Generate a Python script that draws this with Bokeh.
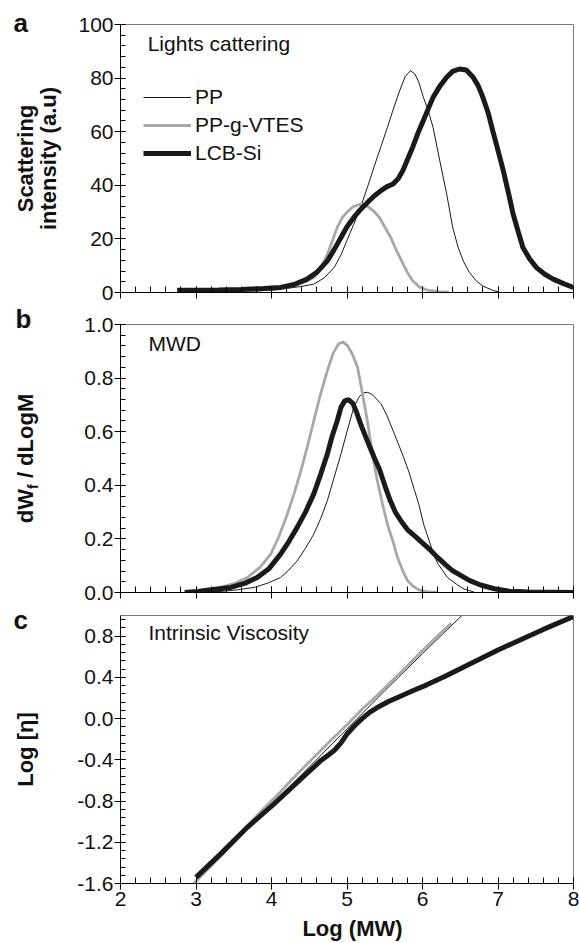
import numpy as np
from bokeh.plotting import figure
from bokeh.models import Range1d, FixedTicker, Legend, LegendItem
from bokeh.layouts import column, row
from bokeh.core.properties import value
from bokeh.embed import file_html
from bokeh.resources import INLINE

FONT = "Liberation Sans"
TXT = "#111111"

# ---------------- data ----------------
series_names = ["PP", "PP-g-VTES", "LCB-Si"]

x_ticks = [2, 3, 4, 5, 6, 7, 8]
x_tick_labels = ["2", "3", "4", "5", "6", "7", "8"]

# (a) Light scattering
a_pp_x = [2.9, 3.3, 3.7, 4.0, 4.2, 4.4, 4.56, 4.7, 4.83, 4.92, 5.0, 5.09, 5.18, 5.27, 5.36, 5.45, 5.54, 5.62,
          5.7, 5.77, 5.84, 5.9, 5.95, 6.01, 6.08, 6.14, 6.23, 6.32, 6.40, 6.47, 6.54, 6.62, 6.71, 6.8, 6.93, 7.0]
a_pp_y = [0.2, 0.3, 0.5, 0.9, 1.5, 2.3, 3.1, 5.5, 9.3, 14, 19.5, 25.5, 31.8, 39.2, 47, 54.5, 62, 69,
          75.5, 80.5, 82.8, 81.5, 78.5, 73, 67.5, 61.6, 49, 36.8, 24.3, 17, 11.8, 7.5, 4.4, 2.4, 0.8, 0.3]
a_vt_x = [3.0, 3.4, 3.8, 4.1, 4.3, 4.45, 4.56, 4.65, 4.74, 4.81, 4.87, 4.94, 5.0, 5.08, 5.18, 5.27, 5.35,
          5.43, 5.5, 5.58, 5.65, 5.72, 5.8, 5.87, 5.95, 6.05, 6.2, 6.35]
a_vt_y = [0.2, 0.4, 0.8, 1.5, 2.6, 4.0, 5.6, 9, 14.3, 19.5, 24.3, 28, 30, 32, 33, 32.2, 30.5,
          28, 24.5, 20.5, 16, 12, 7.5, 4.4, 2.2, 1.0, 0.3, 0.1]
a_lcb_x = [2.75, 3.0, 3.3, 3.6, 3.9, 4.12, 4.3, 4.47, 4.6, 4.74, 4.83, 4.92, 5.0, 5.09, 5.18, 5.27, 5.36,
           5.45, 5.53, 5.61, 5.68, 5.74, 5.8, 5.87, 5.94, 6.01, 6.08, 6.14, 6.23, 6.32, 6.4, 6.49, 6.58,
           6.67, 6.74, 6.8, 6.87, 6.93, 7.0, 7.07, 7.14, 7.2, 7.27, 7.33, 7.42, 7.51, 7.62, 7.73, 7.86, 8.0]
a_lcb_y = [0.8, 0.8, 0.9, 1.1, 1.5, 1.9, 3.0, 5.0, 7.5, 11.8, 16, 20.5, 24.5, 28, 31, 33.6, 36,
           38, 39.5, 40.5, 42.5, 45.5, 49.5, 54.2, 59.5, 64.1, 68.8, 72.8, 77, 80.3, 82.5, 83.4, 83,
           80.3, 77, 72.8, 67, 60.4, 53, 45.5, 37, 29.3, 22.5, 16.8, 12.5, 9.3, 6.8, 5.0, 3.4, 1.9]

# (b) MWD
b_pp_x = [3.0, 3.33, 3.55, 3.77, 3.95, 4.12, 4.23, 4.34, 4.45, 4.56, 4.65, 4.74, 4.83, 4.92, 5.0, 5.09,
          5.16, 5.22, 5.27, 5.33, 5.39, 5.45, 5.53, 5.61, 5.68, 5.75, 5.82, 5.89, 5.95, 6.02, 6.08, 6.15,
          6.21, 6.27, 6.33, 6.45, 6.55, 6.7]
b_pp_y = [0.0, 0.004, 0.01, 0.019, 0.035, 0.056, 0.084, 0.118, 0.165, 0.218, 0.275, 0.343, 0.43, 0.517,
          0.6, 0.691, 0.73, 0.745, 0.747, 0.74, 0.722, 0.704, 0.66, 0.604, 0.555, 0.504, 0.45, 0.385,
          0.33, 0.25, 0.2, 0.14, 0.105, 0.081, 0.056, 0.031, 0.013, 0.0]
b_vt_x = [2.9, 3.1, 3.33, 3.5, 3.68, 3.85, 3.99, 4.1, 4.21, 4.3, 4.39, 4.48, 4.56, 4.65, 4.74, 4.82, 4.89,
          4.95, 5.01, 5.07, 5.14, 5.2, 5.27, 5.34, 5.4, 5.47, 5.54, 5.61, 5.67, 5.74, 5.8, 5.87, 5.95,
          6.05, 6.2]
b_vt_y = [0.0, 0.008, 0.019, 0.033, 0.056, 0.095, 0.143, 0.21, 0.293, 0.37, 0.455, 0.55, 0.641, 0.74,
          0.828, 0.895, 0.928, 0.934, 0.92, 0.89, 0.84, 0.75, 0.64, 0.51, 0.42, 0.33, 0.25, 0.19, 0.13,
          0.08, 0.045, 0.025, 0.01, 0.003, 0.0]
b_lcb_x = [2.85, 3.02, 3.2, 3.46, 3.65, 3.81, 3.97, 4.12, 4.23, 4.34, 4.45, 4.56, 4.65, 4.74, 4.8, 4.87,
           4.92, 4.97, 5.02, 5.08, 5.13, 5.18, 5.27, 5.36, 5.43, 5.5, 5.57, 5.64, 5.72, 5.8, 5.9, 5.98,
           6.08, 6.2, 6.3, 6.4, 6.5, 6.62, 6.77, 6.95, 7.13, 7.4, 8.0]
b_lcb_y = [0.0, 0.004, 0.01, 0.019, 0.035, 0.056, 0.09, 0.143, 0.19, 0.243, 0.3, 0.368, 0.44, 0.517,
           0.58, 0.64, 0.691, 0.715, 0.72, 0.705, 0.67, 0.629, 0.565, 0.504, 0.46, 0.40, 0.345, 0.30,
           0.265, 0.235, 0.21, 0.19, 0.165, 0.131, 0.105, 0.081, 0.065, 0.045, 0.028, 0.014, 0.006,
           0.002, 0.0]

# (c) Intrinsic viscosity
c_pp_x = [3.0, 4.0, 5.0, 5.5, 6.0, 6.52]
c_pp_y = [-1.58, -0.84, -0.10, 0.27, 0.63, 1.0]
c_vt_x = [2.97, 3.2, 3.4, 3.68, 3.9, 4.12, 4.35, 4.61, 4.8, 5.0, 5.2, 5.43, 5.7, 6.0, 6.2, 6.38]
c_vt_y = [-1.60, -1.43, -1.28, -1.04, -0.87, -0.71, -0.53, -0.34, -0.2, -0.06, 0.09, 0.245, 0.44,
          0.66, 0.80, 0.925]
c_lcb_x = [3.0, 3.33, 3.68, 4.03, 4.39, 4.65, 4.75, 4.83, 4.92, 5.0, 5.1, 5.2, 5.3, 5.42, 5.55, 5.7,
           5.87, 6.05, 6.3, 6.6, 7.0, 7.3, 7.6, 8.0]
c_lcb_y = [-1.54, -1.31, -1.055, -0.83, -0.585, -0.41, -0.355, -0.31, -0.235, -0.15, -0.07, 0.0, 0.06,
           0.115, 0.165, 0.215, 0.27, 0.325, 0.41, 0.52, 0.665, 0.765, 0.865, 0.99]

a_yticks = [0, 20, 40, 60, 80, 100]
a_ylabels = ["0", "20", "40", "60", "80", "100"]
b_yticks = [0.0, 0.2, 0.4, 0.6, 0.8, 1.0]
b_ylabels = ["0.0", "0.2", "0.4", "0.6", "0.8", "1.0"]
c_yticks = [-1.6, -1.2, -0.8, -0.4, 0.0, 0.4, 0.8]
c_ylabels = ["-1.6", "-1.2", "-0.8", "-0.4", "0.0", "0.4", "0.8"]

panel_letters = ["a", "b", "c"]
panel_notes = ["Lights cattering", "MWD", "Intrinsic Viscosity"]
y_titles_a = ["Scattering", "intensity (a.u)"]
y_title_b = ["dW", "f", "/ dLogM"]
y_title_c = "Log [η]"
x_title = "Log (MW)"

# ---------------- styling ----------------
THIN = dict(line_color="#1a1a1a", line_width=1.0)
GREY = dict(line_color="#a8a8a8", line_width=2.8)
THICK = dict(line_color="#1a1a1a", line_width=5.0)

GUT = 70          # width of the left strip holding the letters / axis titles
W_MAIN = 579 - GUT
ROT = np.pi / 2
MID = 0.3465      # baseline -> box-middle offset (em) for Liberation Sans


def make_fig(height, top, bottom, y0, y1, yticks, ylabels, yminor, show_xlabels):
    p = figure(width=W_MAIN, height=height, x_range=Range1d(2, 8), y_range=Range1d(y0, y1),
               output_backend="svg", toolbar_location=None, title=None, frame_align=False,
               min_border_left=120 - GUT, min_border_right=6, min_border_top=top,
               min_border_bottom=bottom)
    p.grid.visible = False
    p.outline_line_color = "#7a7a7a"
    p.outline_line_width = 1

    xa = p.xaxis[0]
    xa.ticker = FixedTicker(ticks=x_ticks, minor_ticks=[2 + 0.2 * i for i in range(31)])
    xa.major_label_overrides = {t: l for t, l in zip(x_ticks, x_tick_labels)}
    xa.axis_line_color = "black"
    xa.major_tick_line_color = "black"
    xa.minor_tick_line_color = "black"
    xa.major_tick_in = 6
    xa.major_tick_out = 6
    xa.minor_tick_in = 6
    xa.minor_tick_out = 0
    xa.major_label_text_font = FONT
    xa.major_label_text_font_size = "21px"
    xa.major_label_standoff = 2
    xa.major_label_text_color = TXT if show_xlabels else None

    ya = p.yaxis[0]
    ya.ticker = FixedTicker(ticks=yticks, minor_ticks=yminor)
    ya.major_label_overrides = {t: l for t, l in zip(yticks, ylabels)}
    ya.axis_line_color = "black"
    ya.major_tick_line_color = "black"
    ya.minor_tick_line_color = "black"
    ya.major_tick_in = 5
    ya.major_tick_out = 6
    ya.minor_tick_in = 5
    ya.minor_tick_out = 0
    ya.major_label_text_font = FONT
    ya.major_label_text_font_size = "21px"
    ya.major_label_text_color = TXT
    ya.major_label_standoff = 1
    return p


def make_strip(width, height):
    s = figure(width=width, height=height, x_range=Range1d(0, width), y_range=Range1d(0, height),
               x_axis_location=None, y_axis_location=None, output_backend="svg",
               toolbar_location=None, title=None, min_border=0, frame_align=False)
    s.outline_line_color = None
    s.grid.visible = False
    return s


def strip_text(s, x, y_from_top, txt, size, bold=True, rotated=False, align="left"):
    """x / y_from_top give the baseline position (in strip pixels)."""
    h = s.height
    if rotated:
        ax, ay = x - MID * size, y_from_top
        angle = ROT
    else:
        ax, ay = x, y_from_top - MID * size
        angle = 0.0
    s.text(x=[ax], y=[h - ay], text=[txt], text_font=value(FONT),
           text_font_size=value(f"{size}px"), text_font_style="bold" if bold else "normal",
           text_color=TXT, angle=angle, text_align=align, text_baseline="middle")


def note(p, x, y_base, px_per_unit, txt, size=21):
    p.text(x=[x], y=[y_base + MID * size / px_per_unit], text=[txt], text_font=value(FONT),
           text_font_size=value(f"{size}px"), text_color=TXT, text_align="left",
           text_baseline="middle")


# ---------- panel a : frame page y 24..292 (row 0..304) ----------
HA = 304
pa = make_fig(HA, 24, 12, 0, 100, a_yticks, a_ylabels, [4 * i for i in range(26)], False)
ra1 = pa.line(a_pp_x, a_pp_y, **THIN)
ra2 = pa.line(a_vt_x, a_vt_y, **GREY)
ra3 = pa.line(a_lcb_x, a_lcb_y, **THICK)
note(pa, 2.36, 90.3, 2.68, panel_notes[0])

legend = Legend(items=[LegendItem(label=series_names[0], renderers=[ra1]),
                       LegendItem(label=series_names[1], renderers=[ra2]),
                       LegendItem(label=series_names[2], renderers=[ra3])],
                location=(23, 127), orientation="vertical",
                glyph_width=48, glyph_height=22, label_height=22, label_standoff=4, spacing=4,
                padding=0, margin=0, border_line_color=None, background_fill_alpha=0,
                label_text_font=FONT, label_text_font_size="21px", label_text_color=TXT)
pa.add_layout(legend, "center")

sa = make_strip(GUT, HA)
strip_text(sa, 13, 32, panel_letters[0], 26)
strip_text(sa, 33, 158, y_titles_a[0], 22, rotated=True, align="center")
strip_text(sa, 56, 158, y_titles_a[1], 22, rotated=True, align="center")

# ---------- panel b : frame page y 324..592 (row 304..604) ----------
HB = 300
pb = make_fig(HB, 20, 12, 0, 1.0, b_yticks, b_ylabels, [0.04 * i for i in range(26)], False)
pb.line(b_pp_x, b_pp_y, **THIN)
pb.line(b_vt_x, b_vt_y, **GREY)
pb.line(b_lcb_x, b_lcb_y, **THICK)
note(pb, 2.37, 0.903, 268.0, panel_notes[1])

sb = make_strip(GUT, HB)
strip_text(sb, 15, 24, panel_letters[1], 26)
strip_text(sb, 33, 184.6, y_title_b[0], 22, rotated=True, align="right")
strip_text(sb, 37, 184.6, y_title_b[1], 14, rotated=True, align="left")
strip_text(sb, 33, 173.6, y_title_b[2], 22, rotated=True, align="left")

# ---------- panel c : frame page y 615..883 (row 604..914) ----------
HC = 310
pc = make_fig(HC, 11, 31, -1.6, 1.0, c_yticks, c_ylabels, [-1.6 + 0.08 * i for i in range(33)], True)
pc.line(c_pp_x, c_pp_y, **THIN)
pc.line(c_vt_x, c_vt_y, **GREY)
pc.line(c_lcb_x, c_lcb_y, **THICK)
note(pc, 2.37, 0.761, 268.0 / 2.6, panel_notes[2])

sc = make_strip(GUT, HC)
strip_text(sc, 13, 24.5, panel_letters[2], 26)
strip_text(sc, 33, 145, y_title_c, 22, rotated=True, align="center")

# ---------- x-axis title strip (page y 914..942) ----------
HX = 28
sx = make_strip(579, HX)
strip_text(sx, 352, 22, x_title, 22, align="center")

layout = column(row(sa, pa, spacing=0), row(sb, pb, spacing=0), row(sc, pc, spacing=0), sx, spacing=0)
open("out.html", "w").write(file_html(layout, INLINE))
